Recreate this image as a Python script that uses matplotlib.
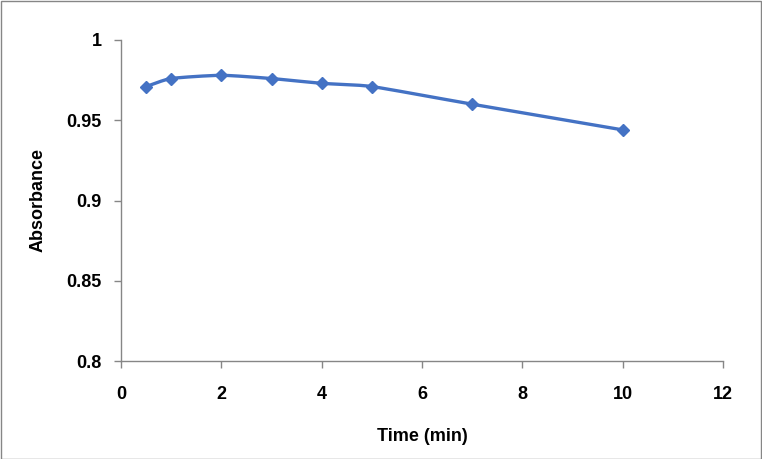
import numpy as np
import matplotlib
matplotlib.use("Agg")
import matplotlib.pyplot as plt
from matplotlib.patches import Rectangle

time_min = [0.5, 1, 2, 3, 4, 5, 7, 10]
absorbance = [0.971, 0.976, 0.978, 0.976, 0.973, 0.971, 0.960, 0.944]
x_ticks = [0, 2, 4, 6, 8, 10, 12]
y_ticks = [0.8, 0.85, 0.9, 0.95, 1]
y_tick_labels = ["0.8", "0.85", "0.9", "0.95", "1"]

plt.rcParams['font.family'] = ['Liberation Sans', 'DejaVu Sans']

def smooth(xs, ys, n=30):
    # Catmull-Rom style smoothing between data points (line rendering only)
    xs = np.asarray(xs, float); ys = np.asarray(ys, float)
    px = np.concatenate([[2*xs[0]-xs[1]], xs, [2*xs[-1]-xs[-2]]])
    py = np.concatenate([[2*ys[0]-ys[1]], ys, [2*ys[-1]-ys[-2]]])
    ox, oy = [], []
    for i in range(1, len(px)-2):
        t = np.linspace(0, 1, n)
        m0x = (px[i+1]-px[i-1])/2*0.6; m1x = (px[i+2]-px[i])/2*0.6
        m0y = (py[i+1]-py[i-1])/2*0.6; m1y = (py[i+2]-py[i])/2*0.6
        h00 = 2*t**3-3*t**2+1; h10 = t**3-2*t**2+t
        h01 = -2*t**3+3*t**2; h11 = t**3-t**2
        ox.append(h00*px[i]+h10*m0x+h01*px[i+1]+h11*m1x)
        oy.append(h00*py[i]+h10*m0y+h01*py[i+1]+h11*m1y)
    return np.concatenate(ox), np.concatenate(oy)

fig = plt.figure(figsize=(7.62, 4.59), dpi=100)
ax = fig.add_axes([121/762, 1-361/459, (723-121)/762, (361-40)/459])

color = '#4472C4'
sx, sy = smooth(time_min, absorbance)
ax.plot(sx, sy, color=color, lw=2.4, solid_capstyle='round')
ax.plot(time_min, absorbance, linestyle='none', marker='D', markersize=6,
        color=color)

ax.set_xlim(0, 12)
ax.set_ylim(0.8, 1)
ax.set_xticks(x_ticks)
ax.set_xticklabels([str(v) for v in x_ticks])
ax.set_yticks(y_ticks)
ax.set_yticklabels(y_tick_labels)

for s in ['top', 'right']:
    ax.spines[s].set_visible(False)
for s in ['left', 'bottom']:
    ax.spines[s].set_color('#868686')
    ax.spines[s].set_linewidth(1)
ax.tick_params(axis='both', direction='out', length=5, width=1, color='#868686',
               labelsize=13)
ax.tick_params(axis='x', pad=13)
ax.tick_params(axis='y', pad=9)
for lab in ax.get_xticklabels() + ax.get_yticklabels():
    lab.set_fontweight('bold')

ax.set_xlabel('Time (min)', fontsize=13, fontweight='bold', labelpad=18)
ax.set_ylabel('Absorbance', fontsize=13, fontweight='bold', labelpad=14)

fig.patches.append(Rectangle((0.5/762, 0.5/459), 1-1.5/762, 1-1.5/459,
                             transform=fig.transFigure, fill=False,
                             edgecolor='#868686', lw=1))

fig.savefig('out.png', dpi=100)
